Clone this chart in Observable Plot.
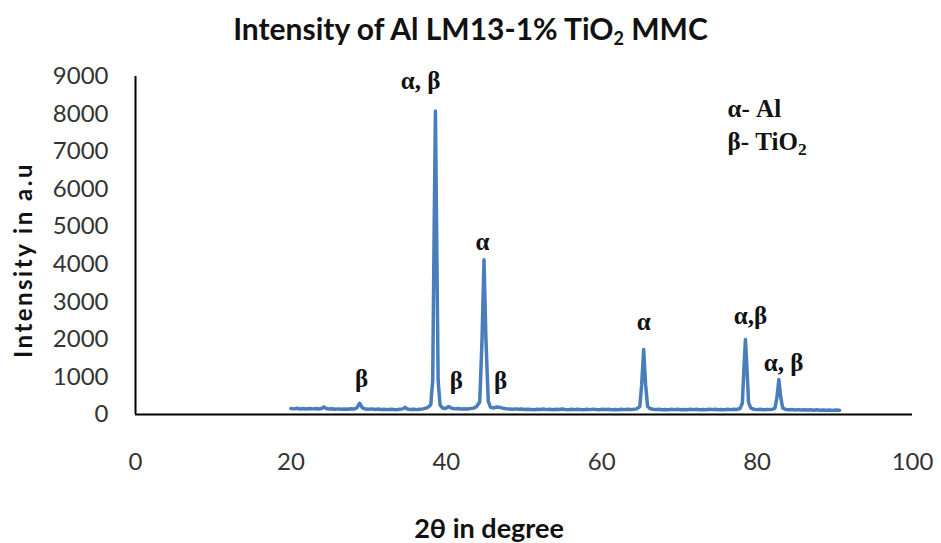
<!DOCTYPE html>
<html>
<head>
<meta charset="utf-8">
<script src="https://cdn.jsdelivr.net/npm/d3@7"></script>
<script src="https://cdn.jsdelivr.net/npm/@observablehq/plot@0.6"></script>
<style>
  html, body { margin: 0; padding: 0; background: #fff; }
  #wrap { position: relative; width: 941px; height: 543px; overflow: hidden; }
  #title { height: 50px; line-height: 56px; text-align: center; font-family: Lato, sans-serif; font-weight: bold; font-size: 30px; color: #111; }
  #title sub { font-size: 60%; vertical-align: -0.25em; line-height: 0; }
  #xlabel { position: absolute; left: 489px; top: 511px; transform: translateX(-50%); font-family: Lato, sans-serif; font-weight: bold; font-size: 27px; color: #111; white-space: nowrap; }
  #ylabel { position: absolute; left: 22px; top: 260px; transform: translate(-50%, -50%) rotate(-90deg); font-family: Lato, sans-serif; font-weight: bold; font-size: 24px; letter-spacing: 2.5px; color: #111; white-space: nowrap; }
</style>
</head>
<body>
<div id="wrap">
  <div id="title">Intensity of Al LM13-1% TiO<sub>2</sub> MMC</div>
  <div id="chart"></div>
  <div id="xlabel">2θ in degree</div>
  <div id="ylabel">Intensity in a.u</div>
</div>
<script>
const twoTheta = [
20.0,20.4,20.8,21.2,21.6,22.0,22.4,22.8,23.2,23.6,24.0,24.25,24.5,24.9,25.3,25.7,26.1,26.5,26.9,27.3,27.7,28.1,28.5,28.85,29.2,29.6,
30.0,30.4,30.8,31.2,31.6,32.0,32.4,32.8,33.2,33.6,34.0,34.4,34.7,35.0,35.4,35.8,36.2,36.6,37.0,37.4,37.7,38.0,38.25,38.45,38.6,38.75,38.95,39.2,39.5,39.9,
40.3,40.7,41.1,41.5,41.9,42.3,42.7,43.1,43.5,43.9,44.3,44.6,44.85,45.1,45.4,45.7,46.1,46.5,46.9,47.3,47.7,48.1,48.5,48.9,49.3,49.7,
50.1,50.5,50.9,51.3,51.7,52.1,52.5,52.9,53.3,53.7,54.1,54.5,54.9,55.3,55.7,56.1,56.5,56.9,57.3,57.7,58.1,58.5,58.9,59.3,59.7,
60.1,60.5,60.9,61.3,61.7,62.1,62.5,62.9,63.3,63.7,64.1,64.5,64.9,65.15,65.4,65.65,65.9,66.2,66.6,67.0,67.4,67.8,68.2,68.6,69.0,69.4,69.8,
70.2,70.6,71.0,71.4,71.8,72.2,72.6,73.0,73.4,73.8,74.2,74.6,75.0,75.4,75.8,76.2,76.6,77.0,77.4,77.8,78.1,78.3,78.5,78.7,78.9,79.2,79.6,
80.0,80.4,80.8,81.2,81.6,82.0,82.3,82.55,82.8,83.05,83.3,83.7,84.1,84.5,84.9,85.3,85.7,86.1,86.5,86.9,87.3,87.7,88.1,88.5,88.9,89.3,89.7,90.1,90.6
];
const intensity = [
160,150,168,148,158,145,162,150,158,145,165,205,160,148,155,140,150,138,148,140,152,145,175,300,175,145,
140,150,135,145,132,140,130,142,135,128,140,150,190,145,132,140,130,142,150,170,200,260,900,5200,8080,5000,900,250,175,160,
215,165,150,158,145,155,148,160,170,210,330,2000,4120,2000,350,190,175,200,190,165,155,148,140,150,138,145,
132,142,135,128,140,133,145,130,138,126,140,132,145,135,128,138,130,142,133,127,138,130,143,132,125,
137,130,140,128,136,126,138,130,142,132,140,150,210,800,1730,800,220,160,140,132,140,128,136,125,138,130,142,
128,135,124,138,130,140,127,135,125,137,130,141,128,134,126,138,130,140,135,160,300,1200,2000,1200,320,170,140,
130,138,128,136,130,140,170,450,930,450,170,135,128,135,122,130,120,128,118,126,115,124,116,122,112,120,110,118,112
];
const xTicks = [0, 20, 40, 60, 80, 100];
const yTicks = [0, 1000, 2000, 3000, 4000, 5000, 6000, 7000, 8000, 9000];

const peakLabels = ["α, β", "α", "β", "β", "β", "α", "α,β", "α, β"];
const peakLabelX = [36.7, 44.66, 29.1, 41.3, 47.0, 65.4, 79.15, 83.4];
const peakLabelY = [8890, 4580, 958, 879, 879, 2450, 2636, 1384];

const legendLabels = ["α- Al", "β- TiO2"];
const legendX = [76.2, 76.2];
const legendY = [8147, 7268];

const pattern = twoTheta.map((t, i) => ({t, v: intensity[i]}));
const peaks = peakLabels.map((s, i) => ({s, x: peakLabelX[i], y: peakLabelY[i]}));
const legend = legendLabels.map((s, i) => ({s, x: legendX[i], y: legendY[i]}));

const chart = Plot.plot({
  width: 941,
  height: 460,
  marginLeft: 135,
  marginRight: 29,
  marginTop: 26,
  marginBottom: 96,
  style: {fontFamily: "Lato, sans-serif", fontSize: "24px", color: "#333", background: "#fff"},
  x: {domain: [0, 100]},
  y: {domain: [0, 9000]},
  marks: [
    Plot.axisX({ticks: xTicks, tickSize: 0, tickPadding: 38, label: null, tickFormat: d => String(d), fontSize: 24}),
    Plot.axisY({ticks: yTicks, tickSize: 0, tickPadding: 27, label: null, tickFormat: d => String(d), fontSize: 24}),
    Plot.line(pattern, {x: "t", y: "v", stroke: "#4a7ebb", strokeWidth: 3.5, strokeLinejoin: "round", strokeLinecap: "round"}),
    Plot.ruleY([0], {stroke: "#000", strokeWidth: 2}),
    Plot.ruleX([0], {stroke: "#000", strokeWidth: 2}),
    Plot.text(peaks, {x: "x", y: "y", text: "s", fontFamily: "'Liberation Serif', serif", fontWeight: "bold", fontSize: 25, fill: "#111"}),
    Plot.text(legend, {x: "x", y: "y", text: "s", textAnchor: "start", fontFamily: "'Liberation Serif', serif", fontWeight: "bold", fontSize: 25, fill: "#111"})
  ]
});

d3.select(chart).selectAll("text").filter(function() { return this.textContent === "β- TiO2"; })
  .each(function() {
    const t = d3.select(this);
    t.text("");
    t.append("tspan").text("β- TiO");
    t.append("tspan").attr("dy", "0.3em").attr("font-size", "70%").text("2");
  });

document.getElementById("chart").appendChild(chart);
</script>
</body>
</html>
